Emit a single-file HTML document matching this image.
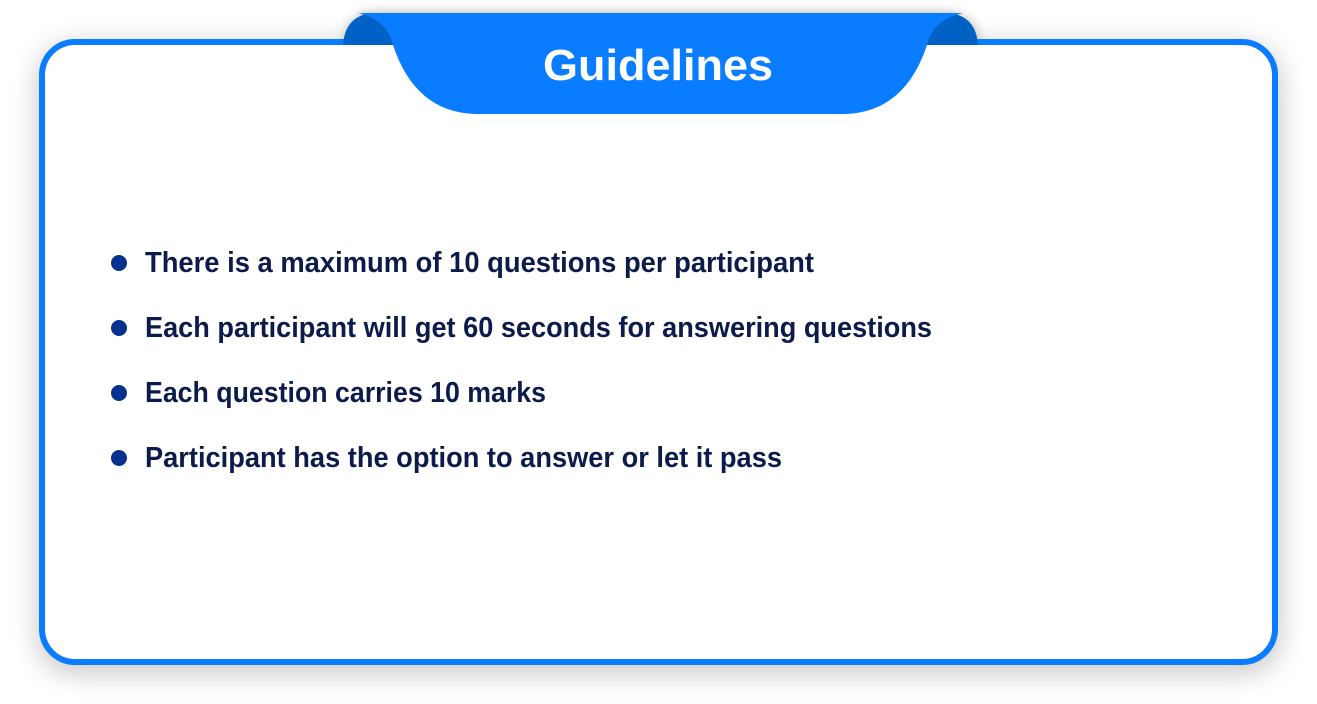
<!DOCTYPE html>
<html><head><meta charset="utf-8"><style>
html,body{margin:0;padding:0;background:#fff;width:1317px;height:704px;overflow:hidden}
svg{display:block}
text{font-family:"Liberation Sans",sans-serif;font-weight:bold}
</style></head><body>
<svg width="1317" height="704" viewBox="0 0 1317 704">
<defs>
<filter id="sh" x="-10%" y="-10%" width="120%" height="125%"><feGaussianBlur stdDeviation="14"/></filter>
<filter id="sh2" x="-10%" y="-50%" width="120%" height="200%"><feGaussianBlur stdDeviation="6"/></filter>
</defs>
<rect x="38" y="45" width="1242" height="628" rx="36" fill="#000" opacity="0.22" filter="url(#sh)"/>
<path d="M345 44 Q348 12 378 13 L940 13 Q975 12 978 44 Z" fill="#000" opacity="0.3" filter="url(#sh2)"/>
<rect x="42" y="42" width="1233" height="620" rx="33" fill="#fff" stroke="#0a7cff" stroke-width="6"/>
<path d="M343 45 Q345 16 372 13 L395 13 L395 45 Z" fill="#0062c4"/>
<path d="M978 45 Q976 16 949 13 L925 13 L925 45 Z" fill="#0062c4"/>
<path d="M358 13 L963 13 Q932 20 927 45 Q905 112 845 114 L475 114 Q415 112 393 45 Q388 20 358 13 Z" fill="#0a7cff"/>
<text x="543" y="80" font-size="44" fill="#fff" textLength="230" lengthAdjust="spacingAndGlyphs">Guidelines</text>
<g fill="#06318f">
<circle cx="119" cy="263" r="8"/>
<circle cx="119" cy="328" r="8"/>
<circle cx="119" cy="393" r="8"/>
<circle cx="119" cy="458" r="8"/>
</g>
<g fill="#0d1b4b" font-size="29">
<text x="145" y="272" textLength="669" lengthAdjust="spacingAndGlyphs">There is a maximum of 10 questions per participant</text>
<text x="145" y="337" textLength="787" lengthAdjust="spacingAndGlyphs">Each participant will get 60 seconds for answering questions</text>
<text x="145" y="402" textLength="401" lengthAdjust="spacingAndGlyphs">Each question carries 10 marks</text>
<text x="145" y="467" textLength="637" lengthAdjust="spacingAndGlyphs">Participant has the option to answer or let it pass</text>
</g>
</svg>
</body></html>
